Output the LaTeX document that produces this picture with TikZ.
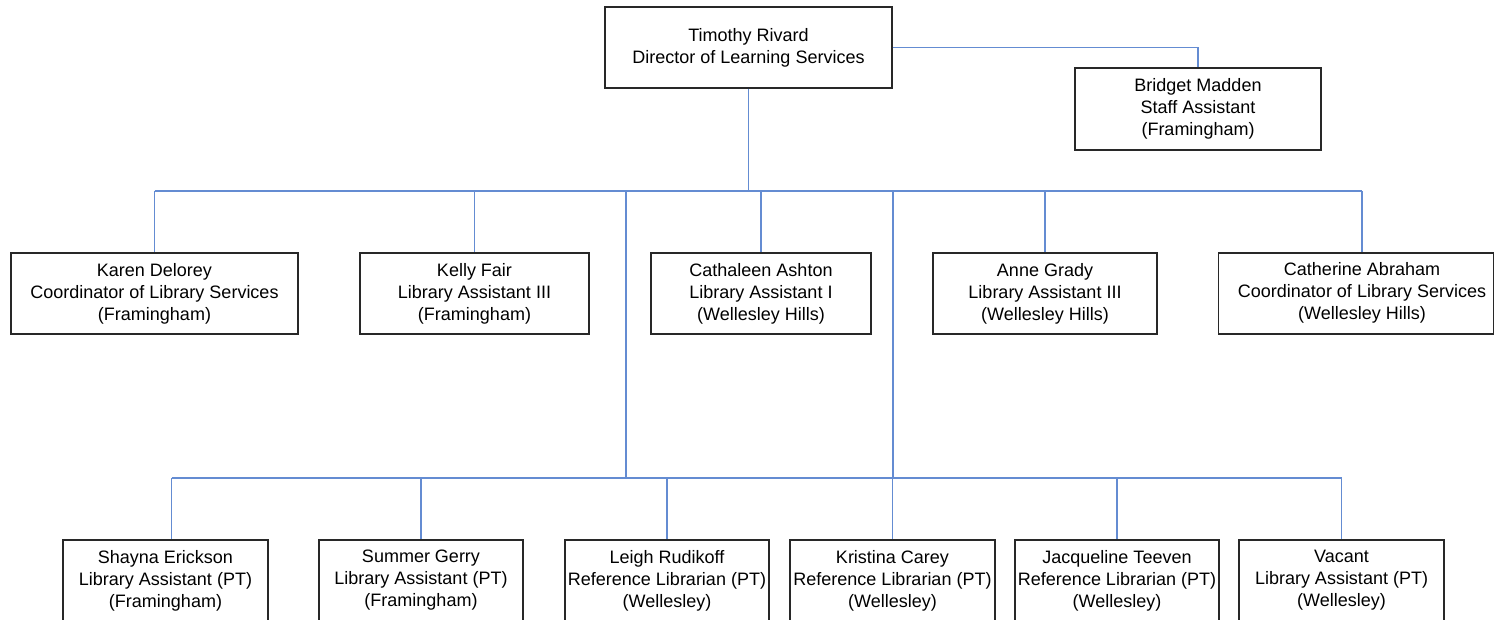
\documentclass[tikz,border=0pt]{standalone}
\usepackage{fontspec}
\setmainfont{Liberation Sans}
\definecolor{lineblue}{RGB}{100,140,210}
\definecolor{boxedge}{RGB}{40,40,40}
\begin{document}
\begin{tikzpicture}[x=1pt,y=-1pt,
  box/.style={draw=boxedge, line width=1.2pt, fill=white, align=center,
    inner sep=0pt, font=\fontsize{18}{22}\selectfont, text=black},
  link/.style={draw=lineblue, line width=1.3pt}]
\useasboundingbox (0,0) rectangle (1495,619);
\clip (0,0) rectangle (1495,619);

% Director and staff assistant
\node[box, minimum width=287, minimum height=81] (tim) at (748.5,47.5)
  {Timothy Rivard\\Director of Learning Services};
\node[box, minimum width=246, minimum height=82] (bridget) at (1198,109)
  {Bridget Madden\\Staff Assistant\\(Framingham)};

% Second level
\node[box, minimum width=287, minimum height=81] (karen) at (154.5,293.5)
  {Karen Delorey\\Coordinator of Library Services\\(Framingham)};
\node[box, minimum width=229, minimum height=81] (kelly) at (474.5,293.5)
  {Kelly Fair\\Library Assistant III\\(Framingham)};
\node[box, minimum width=220, minimum height=81] (cathaleen) at (761,293.5)
  {Cathaleen Ashton\\Library Assistant I\\(Wellesley Hills)};
\node[box, minimum width=224, minimum height=81] (anne) at (1045,293.5)
  {Anne Grady\\Library Assistant III\\(Wellesley Hills)};
\node[box, minimum width=275, minimum height=81] (catherine) at (1356,293.5)
  {\hspace*{12pt}\begin{tabular}{@{}c@{}}Catherine Abraham\\Coordinator of Library Services\\(Wellesley Hills)\end{tabular}};

% Part-time staff
\node[box, minimum width=205, minimum height=81] (shayna) at (165.5,580.5)
  {Shayna Erickson\\Library Assistant (PT)\\(Framingham)};
\node[box, minimum width=204, minimum height=81] (summer) at (421,580.5)
  {Summer Gerry\\Library Assistant (PT)\\(Framingham)};
\node[box, minimum width=204, minimum height=81] (leigh) at (667,580.5)
  {Leigh Rudikoff\\Reference Librarian (PT)\\(Wellesley)};
\node[box, minimum width=205, minimum height=81] (kristina) at (892.5,580.5)
  {Kristina Carey\\Reference Librarian (PT)\\(Wellesley)};
\node[box, minimum width=204, minimum height=81] (jacqueline) at (1117,580.5)
  {Jacqueline Teeven\\Reference Librarian (PT)\\(Wellesley)};
\node[box, minimum width=205, minimum height=81] (vacant) at (1341.5,580.5)
  {Vacant\\Library Assistant (PT)\\(Wellesley)};

% Junction points of the buses
\coordinate (bus) at (748.5,191);
\coordinate (ja) at (626,191);
\coordinate (jb) at (893,191);
\coordinate (ka) at (626,478);
\coordinate (kb) at (893,478);
\coordinate (cdrop) at ([xshift=6pt]catherine.north);
\coordinate (sdrop) at ([xshift=6pt]shayna.north);

\draw[link] (tim.east) -| (bridget.north);
\draw[link] (tim.south) -- (bus);
\draw[link] (karen.north |- bus) -- (cdrop |- bus);
\foreach \n in {karen,kelly,cathaleen,anne}
  \draw[link] (\n.north |- bus) -- (\n.north);
\draw[link] (cdrop |- bus) -- (cdrop);
\draw[link] (ja) -- (ka);
\draw[link] (jb) -- (kb);
\draw[link] (sdrop |- ka) -- (vacant.north |- ka);
\draw[link] (sdrop |- ka) -- (sdrop);
\foreach \n in {summer,leigh,kristina,jacqueline,vacant}
  \draw[link] (\n.north |- ka) -- (\n.north);
\end{tikzpicture}
\end{document}
